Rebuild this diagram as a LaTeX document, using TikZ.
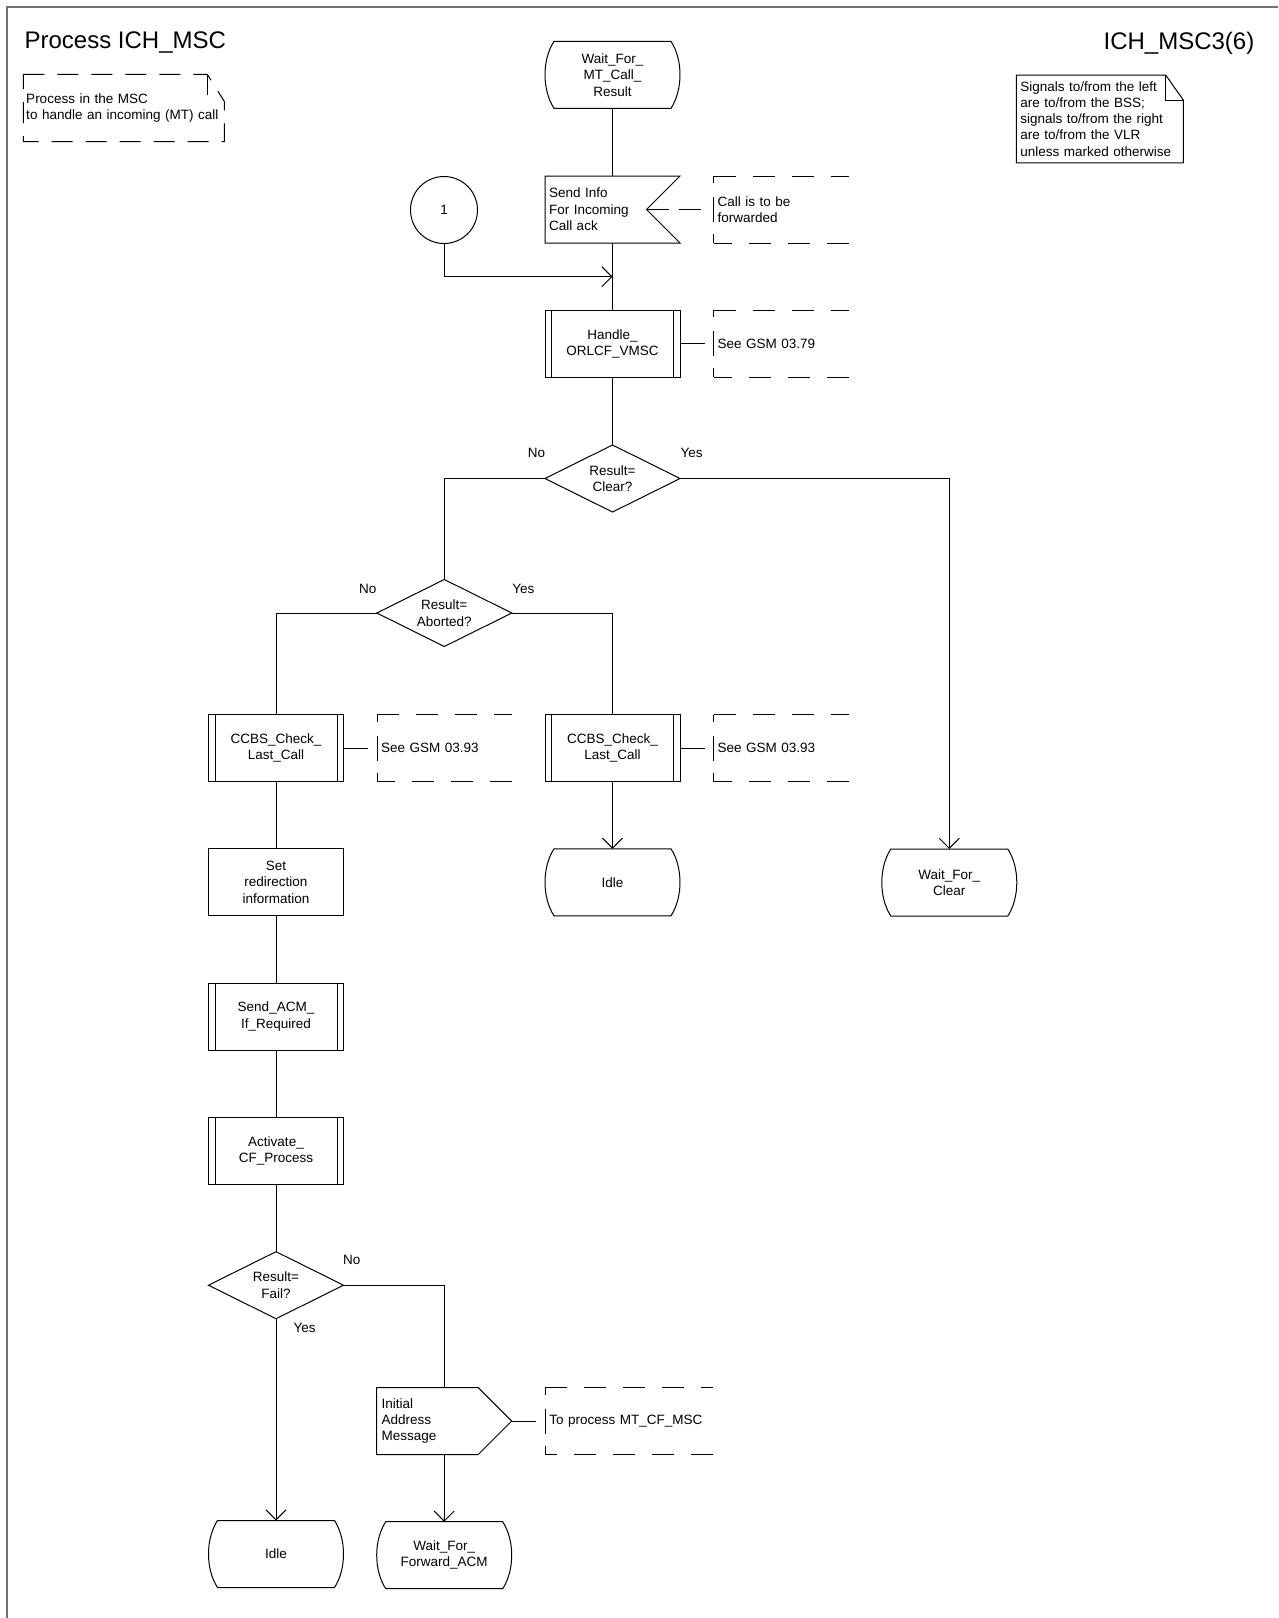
\documentclass[tikz,border=0pt]{standalone}
\usepackage{fontspec}
\setmainfont{Liberation Sans}
\usetikzlibrary{positioning, calc, shapes.geometric, arrows.meta}

\begin{document}
\begin{tikzpicture}[x=1pt, y=-1pt, line width=1pt,
  every node/.style={font=\fontsize{13.5}{16.4}\selectfont, outer sep=0pt},
  sdl/.style={minimum width=135pt, minimum height=67pt, inner sep=0pt, align=center},
  task/.style={sdl, draw},
  proc/.style={sdl, draw, path picture={
      \draw ([xshift=6.5pt]path picture bounding box.north west) -- ([xshift=6.5pt]path picture bounding box.south west)
            ([xshift=-6.5pt]path picture bounding box.north east) -- ([xshift=-6.5pt]path picture bounding box.south east);}},
  decision/.style={draw, diamond, aspect=2, minimum width=135pt, minimum height=67pt, inner sep=0pt, align=center},
  state/.style={sdl, append after command={\pgfextra{\let\sn\tikzlastnode
      \draw ([xshift=9pt]\sn.north west) -- ([xshift=-9pt]\sn.north east)
        .. controls ([xshift=3pt, yshift=15pt]\sn.east) and ([xshift=3pt, yshift=-15pt]\sn.east) .. ([xshift=-9pt]\sn.south east)
        -- ([xshift=9pt]\sn.south west)
        .. controls ([xshift=-3pt, yshift=-15pt]\sn.west) and ([xshift=-3pt, yshift=15pt]\sn.west) .. ([xshift=9pt]\sn.north west) -- cycle;}}},
  insig/.style={sdl, text width=127pt, inner xsep=4pt, align=left, append after command={\pgfextra{\let\sn\tikzlastnode
      \draw (\sn.north west) -- (\sn.north east) -- ([xshift=-33.5pt]\sn.east)
        -- (\sn.south east) -- (\sn.south west) -- cycle;}}},
  outsig/.style={sdl, text width=125pt, inner xsep=5pt, align=left, append after command={\pgfextra{\let\sn\tikzlastnode
      \draw (\sn.north west) -- ([xshift=-33.5pt]\sn.north east) -- (\sn.east)
        -- ([xshift=-33.5pt]\sn.south east) -- (\sn.south west) -- cycle;}}},
  cmt/.style={minimum height=67pt, text width=127pt, inner xsep=4pt, inner ysep=0pt, align=left,
    append after command={\pgfextra{\let\sn\tikzlastnode
      \draw[dash pattern=on 22pt off 17pt] (\sn.north west) -- (\sn.north east);
      \draw[dash pattern=on 22pt off 17pt] (\sn.south east) -- (\sn.south west);
      \draw[dash pattern=on 7pt off 14pt on 25pt off 12pt on 9pt off 10pt] (\sn.north west) -- (\sn.south west);}}},
  con/.style={draw, circle, minimum size=67pt, inner sep=0pt},
  lbl/.style={inner sep=0pt},
  arr/.style={-{Straight Barb[length=10pt, width=20pt]}},
  title/.style={inner sep=0pt, font=\fontsize{24}{28}\selectfont}
]
\useasboundingbox (0,0) rectangle (1278,1618);

% page frame
\draw[black!55, line width=2pt] (6.7,1618) -- (6.7,7.3) -- (1278,7.3);

% headings
\node[title, anchor=base west] (proctitle) at (24.6,48.3) {Process ICH\_MSC};
\node[title, anchor=base east] (pagetitle) at (1254.3,49.6) {ICH\_MSC3(6)};

% process description
\node[text width=195pt, inner xsep=3pt, inner ysep=0pt, minimum height=67.4pt, align=left,
  append after command={\pgfextra{\let\sn\tikzlastnode
    \draw[dash pattern=on 21pt off 13pt] (\sn.north west) -- ([xshift=-17pt]\sn.north east)
      -- ([yshift=-27pt]\sn.north east) -- (\sn.south east) -- (\sn.south west) -- cycle;
    \draw[dash pattern=on 21pt off 13pt] ([xshift=-17pt]\sn.north east) -- ([xshift=-17pt, yshift=-25pt]\sn.north east);}}]
  (desc) at (123.75,108) {Process in the MSC\\to handle an incoming (MT) call};

% signal note
\node[text width=159pt, inner xsep=4pt, inner ysep=0pt, minimum height=87.7pt, align=left,
  font=\fontsize{13.5}{16.2}\selectfont,
  append after command={\pgfextra{\let\sn\tikzlastnode
    \draw (\sn.north west) -- ([xshift=-17.6pt]\sn.north east) -- ([yshift=-25pt]\sn.north east)
      -- (\sn.south east) -- (\sn.south west) -- cycle;
    \draw ([xshift=-17.6pt]\sn.north east) |- ([yshift=-25pt]\sn.north east);}}]
  (sigs) at (1099.8,118.9) {Signals to/from the left\\are to/from the BSS;\\signals to/from the right\\are to/from the VLR\\unless marked otherwise};

% main column
\node[state] (waitmt) at (612.5,74.8) {Wait\_For\_\\MT\_Call\_\\Result};
\node[insig, below=67.7pt of waitmt] (sendinfo) {Send Info\\For Incoming\\Call ack};
\node[proc, below=67.4pt of sendinfo] (handle) {Handle\_\\ORLCF\_VMSC};
\node[decision, below=67.6pt of handle] (clear) {Result=\\Clear?};
\node[con] (c1) at (444,210) {1};
\coordinate (j1) at ($(sendinfo.south)!.5!(handle.north)$);

% comments
\node[cmt, right=33.7pt of sendinfo] (cmt1) {Call is to be\\forwarded};
\node[cmt, right=33.7pt of handle] (cmt2) {See GSM 03.79};

% branches
\node[decision] (aborted) at (444.3,613) {Result=\\Aborted?};
\node[proc] (ccbs1) at (276,748) {CCBS\_Check\_\\Last\_Call};
\node[proc] (ccbs2) at (612.5,748) {CCBS\_Check\_\\Last\_Call};
\node[cmt, right=33.5pt of ccbs1] (cmt3) {See GSM 03.93};
\node[cmt, right=33.7pt of ccbs2] (cmt4) {See GSM 03.93};
\node[state, below=67.3pt of ccbs2] (idle1) {Idle};
\node[state] (waitclr) at (949.3,882.5) {Wait\_For\_\\Clear};

\node[task, below=67.3pt of ccbs1] (setred) {Set\\redirection\\information};
\node[proc, below=67.3pt of setred] (sendacm) {Send\_ACM\_\\If\_Required};
\node[proc, below=67.3pt of sendacm] (activate) {Activate\_\\CF\_Process};
\node[decision, below=67.3pt of activate] (fail) {Result=\\Fail?};
\node[state, below=201.8pt of fail] (idle2) {Idle};
\node[outsig] (iam) at (444.2,1421) {Initial\\Address\\Message};
\node[cmt, text width=160pt, right=33.6pt of iam] (cmt5) {To process MT\_CF\_MSC};
\node[state, below=67.2pt of iam] (waitfwd) {Wait\_For\_\\Forward\_ACM};

% decision labels
\node[lbl] (clearno) at ([xshift=-8.4pt, yshift=26pt]clear.west) {No};
\node[lbl] (clearyes) at ([xshift=11.7pt, yshift=26pt]clear.east) {Yes};
\node[lbl] (abortno) at ([xshift=-9pt, yshift=24pt]aborted.west) {No};
\node[lbl] (abortyes) at ([xshift=11.6pt, yshift=24pt]aborted.east) {Yes};
\node[lbl] (failno) at ([xshift=8.2pt, yshift=25pt]fail.east) {No};
\node[lbl] (failyes) at ([xshift=28.6pt, yshift=-9.4pt]fail.south) {Yes};

% flow lines
\draw (waitmt) -- (sendinfo);
\draw (sendinfo) -- (handle);
\draw[arr] (c1.south) |- (j1);
\draw (handle) -- (clear);
\draw (clear.west) -| (aborted.north);
\draw[arr] (clear.east) -| (waitclr.north);
\draw (aborted.west) -| (ccbs1.north);
\draw (aborted.east) -| (ccbs2.north);
\draw[arr] (ccbs2) -- (idle1);
\draw (ccbs1) -- (setred);
\draw (setred) -- (sendacm);
\draw (sendacm) -- (activate);
\draw (activate) -- (fail);
\draw[arr] (fail.south) -- (idle2.north);
\draw (fail.east) -| (iam.north);
\draw[arr] (iam) -- (waitfwd);

% comment links
\draw[dash pattern=on 22pt off 10pt] ([xshift=-33.5pt]sendinfo.east) -- ([xshift=-9pt]cmt1.west);
\draw (handle.east) -- ([xshift=-9pt]cmt2.west);
\draw (ccbs1.east) -- ([xshift=-9pt]cmt3.west);
\draw (ccbs2.east) -- ([xshift=-9pt]cmt4.west);
\draw (iam.east) -- ([xshift=-9.6pt]cmt5.west);

\end{tikzpicture}
\end{document}
